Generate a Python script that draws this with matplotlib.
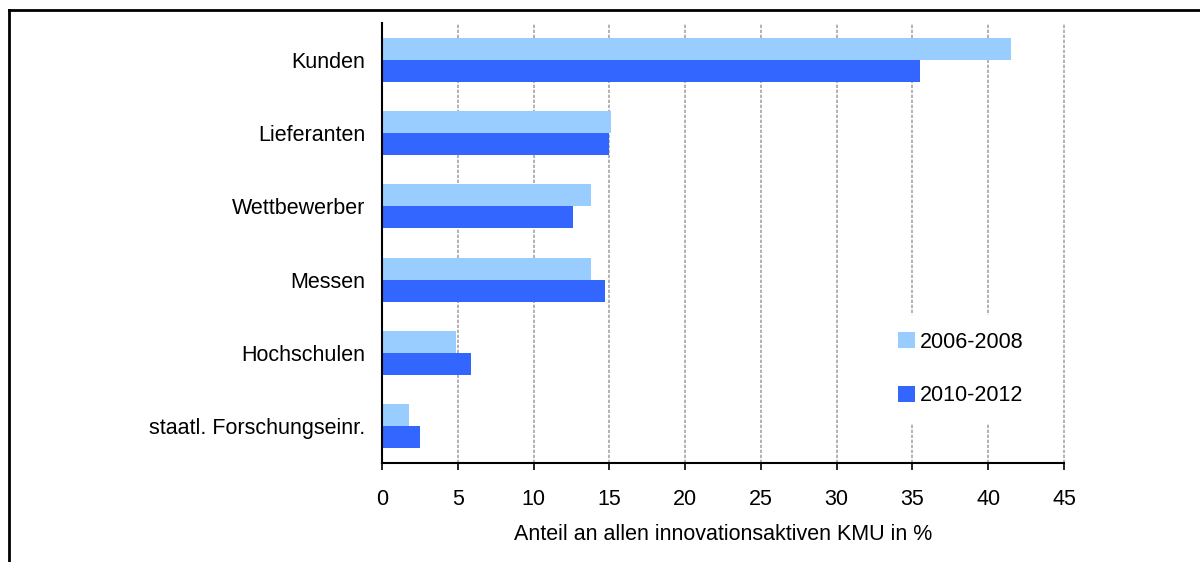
import matplotlib
matplotlib.use("Agg")
import matplotlib.pyplot as plt
from matplotlib.lines import Line2D
import numpy as np

plt.rcParams['font.family'] = ['Liberation Sans', 'DejaVu Sans']

categories = ["Kunden", "Lieferanten", "Wettbewerber", "Messen", "Hochschulen", "staatl. Forschungseinr."]
series_names = ["2006-2008", "2010-2012"]
values_2006_2008 = [41.5, 15.1, 13.8, 13.8, 4.9, 1.8]
values_2010_2012 = [35.5, 15.0, 12.6, 14.7, 5.9, 2.5]
xticks = [0, 5, 10, 15, 20, 25, 30, 35, 40, 45]
xlabel = "Anteil an allen innovationsaktiven KMU in %"

colors = ["#99CCFF", "#3366FF"]
FS = 15.5

W, H = 1200, 562
fig = plt.figure(figsize=(W / 100, H / 100), dpi=100)
ax = fig.add_axes([382 / W, 1 - 463 / H, (1064 - 382) / W, (463 - 23) / H])

y = np.arange(len(categories))
h = 0.3
ax.barh(y - h / 2, values_2006_2008, height=h, color=colors[0], label=series_names[0], zorder=2)
ax.barh(y + h / 2, values_2010_2012, height=h, color=colors[1], label=series_names[1], zorder=2)

ax.set_ylim(len(categories) - 0.5, -0.5)
ax.set_xlim(0, 45)
ax.set_xticks(xticks)
ax.set_xticklabels([str(t) for t in xticks], fontsize=FS)
ax.set_yticks(y)
ax.set_yticklabels(categories, fontsize=FS)
ax.tick_params(axis='y', length=0, pad=12)
ax.tick_params(axis='x', length=5, width=1.2, direction='out', pad=14)
ax.set_xlabel(xlabel, fontsize=FS, labelpad=10)

ax.xaxis.grid(True, color='#A6A6A6', linestyle=(0, (2, 1)), linewidth=1.2, zorder=0)
for gl in ax.get_xgridlines():
    gl.set_clip_on(False)
ax.set_axisbelow(True)
for s in ['top', 'right']:
    ax.spines[s].set_visible(False)
ax.spines['left'].set_linewidth(1.5)
ax.spines['bottom'].set_linewidth(1.5)
ax.spines['left'].set_zorder(3)

leg = ax.legend(loc='center', bbox_to_anchor=(961 / W, 1 - 369 / H), bbox_transform=fig.transFigure,
                frameon=True, fontsize=FS, handlelength=0.75, handleheight=0.75, handletextpad=0.25,
                labelspacing=1.5, borderpad=0.8)
leg.get_frame().set_facecolor('white')
leg.get_frame().set_edgecolor('none')
leg.get_frame().set_alpha(1)
leg.set_zorder(5)

# outer frame (partially visible)
fig.add_artist(Line2D([9 / W, 1.0], [1 - 10 / H, 1 - 10 / H], color='black', linewidth=2, transform=fig.transFigure))
fig.add_artist(Line2D([9 / W, 9 / W], [0.0, 1 - 10 / H], color='black', linewidth=2, transform=fig.transFigure))

fig.savefig("out.png", dpi=100)
